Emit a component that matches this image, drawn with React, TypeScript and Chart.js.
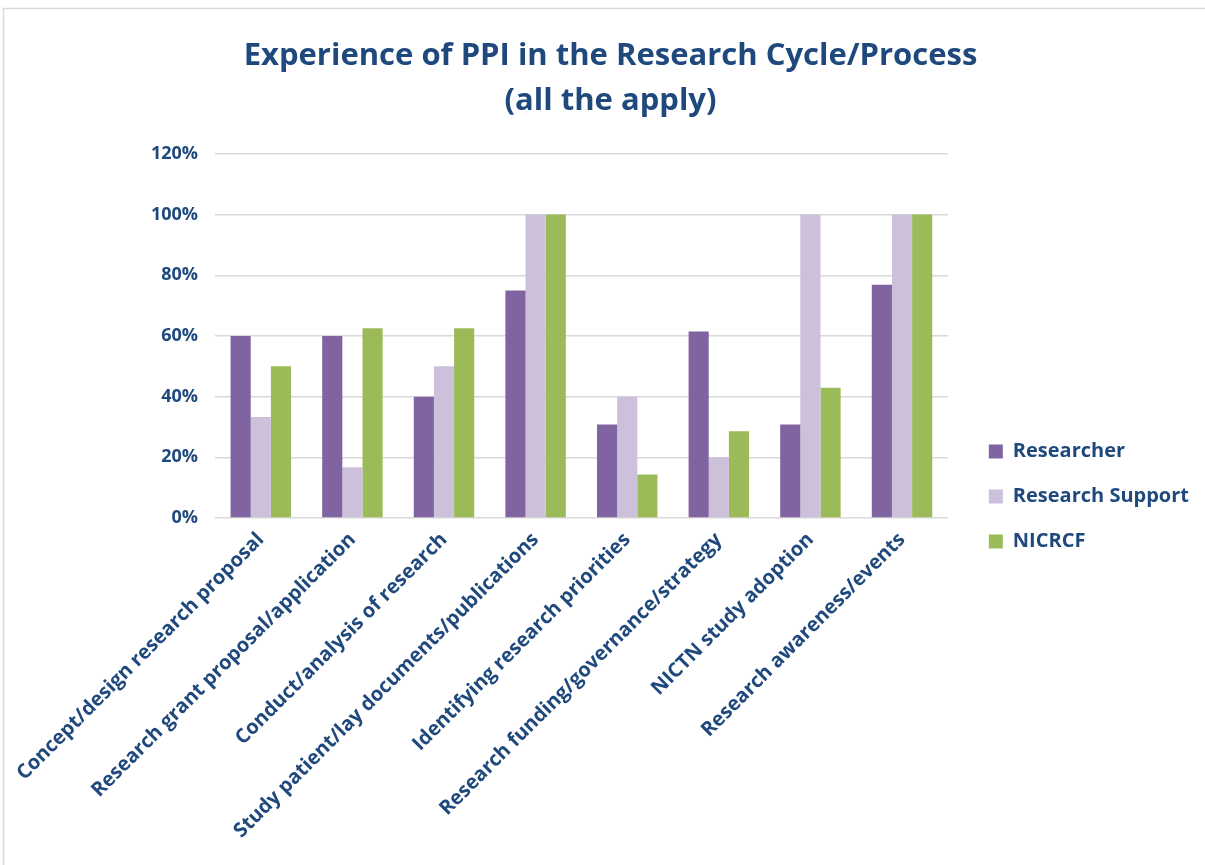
import React, { useEffect, useRef } from "react";
import { Chart, registerables } from "chart.js";

Chart.register(...registerables);

const categories = [
  "Concept/design research proposal",
  "Research grant proposal/application",
  "Conduct/analysis of research",
  "Study patient/lay documents/publications",
  "Identifying research priorities",
  "Research funding/governance/strategy",
  "NICTN study adoption",
  "Research awareness/events",
];

const researcher = [60, 60, 40, 75, 30.8, 61.5, 30.8, 76.9];
const researchSupport = [33.3, 16.7, 50, 100, 40, 20, 100, 100];
const nicrcf = [50, 62.5, 62.5, 100, 14.3, 28.6, 42.9, 100];

const seriesNames = ["Researcher", "Research Support", "NICRCF"];
const titleLines = ["Experience of PPI in the Research Cycle/Process", "(all the apply)"];

const NAVY = "#1F497D";
const FONT = "'Open Sans', sans-serif";

const framePlugin = {
  id: "frame",
  beforeDraw(chart: any) {
    const ctx = chart.ctx;
    ctx.save();
    ctx.fillStyle = "#ffffff";
    ctx.fillRect(0, 0, chart.width, chart.height);
    ctx.strokeStyle = "#D9D9D9";
    ctx.lineWidth = 1.5;
    ctx.beginPath();
    ctx.moveTo(3.5, chart.height);
    ctx.lineTo(3.5, 8.5);
    ctx.lineTo(chart.width, 8.5);
    ctx.stroke();
    ctx.restore();
  },
};

// nudges the legend (gap after the plot area) and the title (centre on page)
const boxNudgePlugin = {
  id: "boxNudge",
  afterLayout(chart: any) {
    const lg = chart.legend;
    if (lg) {
      lg.left += 16;
      lg.right += 16;
    }
    const tb = chart.titleBlock;
    if (tb) {
      tb.left += 9;
      tb.right += 9;
    }
  },
};

export default function App() {
  const ref = useRef<HTMLCanvasElement>(null);

  useEffect(() => {
    document.body.style.margin = "0";
    const chart = new Chart(ref.current!, {
      type: "bar",
      data: {
        labels: categories,
        datasets: [
          { label: seriesNames[0], data: researcher, backgroundColor: "#8064A2" },
          { label: seriesNames[1], data: researchSupport, backgroundColor: "#CCC0DA" },
          { label: seriesNames[2], data: nicrcf, backgroundColor: "#9BBB59" },
        ],
      },
      options: {
        animation: false,
        responsive: false,
        maintainAspectRatio: false,
        datasets: { bar: { categoryPercentage: 0.66, barPercentage: 1 } },
        layout: { padding: { left: 20, right: 22, top: 0, bottom: 20 } },
        plugins: {
          title: {
            display: true,
            text: titleLines,
            color: NAVY,
            font: { family: FONT, size: 31, weight: "bold", lineHeight: 1.45 },
            padding: { top: 34, bottom: 30 },
          },
          legend: {
            position: "right",
            title: {
              display: true,
              text: " ",
              font: { size: 10, lineHeight: 1 },
              padding: { top: 138, bottom: 0 },
            },
            labels: {
              color: NAVY,
              font: { family: FONT, size: 20, weight: "bold" },
              boxWidth: 14,
              boxHeight: 14,
              padding: 25,
            },
          },
          tooltip: { enabled: false },
        },
        scales: {
          x: {
            grid: { display: false },
            border: { display: false },
            ticks: {
              color: NAVY,
              font: { family: FONT, size: 20, weight: "bold" },
              maxRotation: 45,
              minRotation: 45,
              autoSkip: false,
              padding: 2,
            },
          },
          y: {
            min: 0,
            max: 120,
            afterFit: (s: any) => {
              s.width = 195;
            },
            grid: { color: "#D9D9D9", lineWidth: 1.5, drawTicks: false },
            border: { display: false },
            ticks: {
              stepSize: 20,
              color: NAVY,
              padding: 17,
              font: { family: FONT, size: 18, weight: "bold" },
              callback: (v: any) => v + "%",
            },
          },
        },
      },
      plugins: [framePlugin, boxNudgePlugin],
    });
    return () => chart.destroy();
  }, []);

  return (
    <div style={{ width: 1205, height: 865 }}>
      <canvas ref={ref} width={1205} height={865} />
    </div>
  );
}
